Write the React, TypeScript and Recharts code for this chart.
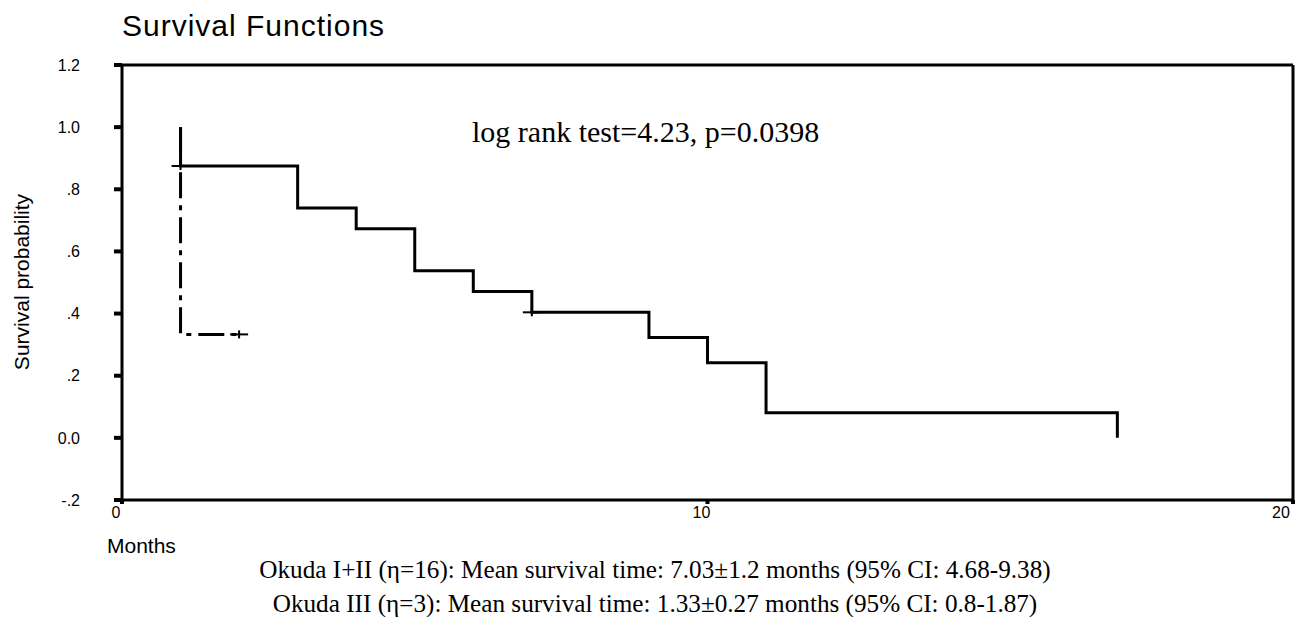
import React from "react";
import { LineChart, Line, XAxis, YAxis, ReferenceLine } from "recharts";

// ---- data ----
const okudaI_II_months = [1, 1, 3, 4, 5, 6, 7, 9, 10, 11, 17];
const okudaI_II_surv = [1.0, 0.875, 0.74, 0.673, 0.538, 0.471, 0.404, 0.323, 0.242, 0.081, 0.0];
const okudaI_II_censored = [false, true, false, false, false, false, true, false, false, false, false];

const okudaIII_months = [1, 1, 2];
const okudaIII_surv = [1.0, 0.333, 0.333];
const okudaIII_censored = [false, false, true];

const xTicks = [0, 10, 20];
const xTickLabels = ["0", "10", "20"];
const yTicks = [-0.2, 0, 0.2, 0.4, 0.6, 0.8, 1.0, 1.2];
const yTickLabels = ["-.2", "0.0", ".2", ".4", ".6", ".8", "1.0", "1.2"];

const title = "Survival Functions";
const yLabel = "Survival probability";
const xLabel = "Months";
const annotation = "log rank test=4.23, p=0.0398";
const caption1 = "Okuda I+II (η=16): Mean survival time: 7.03±1.2 months (95% CI: 4.68-9.38)";
const caption2 = "Okuda III (η=3): Mean survival time: 1.33±0.27 months (95% CI: 0.8-1.87)";

const build = (t: number[], s: number[], c: boolean[]) =>
  t.map((v, i) => ({ t: v, s: s[i], censored: c[i] }));

const dataA = build(okudaI_II_months, okudaI_II_surv, okudaI_II_censored);
const dataB = build(okudaIII_months, okudaIII_surv, okudaIII_censored);

const SANS = "'Liberation Sans', Arial, sans-serif";
const SERIF = "'Liberation Serif', 'Times New Roman', serif";

const CensorDot = (props: any) => {
  const { cx, cy, payload, index } = props;
  if (!payload || !payload.censored || cx == null || cy == null) return <g key={"d" + index} />;
  return (
    <g key={"d" + index}>
      <line x1={cx - 9} x2={cx + 9} y1={cy} y2={cy} stroke="#000" strokeWidth={2} />
      <line x1={cx} x2={cx} y1={cy - 4} y2={cy + 4} stroke="#000" strokeWidth={2} />
    </g>
  );
};

const XTick = (props: any) => {
  const { x, y, payload, index } = props;
  const i = xTicks.indexOf(payload.value);
  return (
    <text x={x - 6} y={y} dy="0.71em" textAnchor="middle" fontSize={16} fontFamily={SANS} fill="#000" key={"x" + index}>
      {i >= 0 ? xTickLabels[i] : String(payload.value)}
    </text>
  );
};

const yFmt = (v: number) => {
  const i = yTicks.findIndex((t) => Math.abs(t - v) < 1e-9);
  return i >= 0 ? yTickLabels[i] : String(v);
};

export default function App() {
  return (
    <div style={{ position: "absolute", left: 0, top: 0, width: 1295, height: 617, background: "#fff" }}>
      <LineChart width={1295} height={617} margin={{ top: 65, right: 2, left: 0, bottom: 87 }}>
        <XAxis
          dataKey="t"
          type="number"
          domain={[0, 20]}
          ticks={xTicks}
          allowDataOverflow
          height={30}
          axisLine={{ stroke: "#000", strokeWidth: 3 }}
          tickLine={{ stroke: "#000", strokeWidth: 4 }}
          tickSize={4}
          tickMargin={3}
          tick={<XTick />}
        />
        <YAxis
          dataKey="s"
          type="number"
          domain={[-0.2, 1.2]}
          ticks={yTicks}
          allowDataOverflow
          width={122}
          axisLine={{ stroke: "#000", strokeWidth: 3 }}
          tickLine={{ stroke: "#000", strokeWidth: 4 }}
          tickSize={8}
          tickMargin={34}
          tickFormatter={yFmt}
          tick={{ fontSize: 16, fontFamily: SANS, fill: "#000" }}
        />
        <ReferenceLine y={1.2} stroke="#000" strokeWidth={3} ifOverflow="visible" />
        <ReferenceLine x={20} stroke="#000" strokeWidth={3} ifOverflow="visible" />
        <Line
          data={dataB}
          dataKey="s"
          type="stepAfter"
          stroke="#000"
          strokeWidth={3}
          strokeDasharray="26 7 5 7"
          dot={CensorDot}
          activeDot={false}
          isAnimationActive={false}
        />
        <Line
          data={dataA}
          dataKey="s"
          type="stepAfter"
          stroke="#000"
          strokeWidth={3}
          dot={CensorDot}
          activeDot={false}
          isAnimationActive={false}
        />
      </LineChart>
      <svg
        width={1295}
        height={617}
        style={{ position: "absolute", left: 0, top: 0, pointerEvents: "none" }}
      >
        <text x={122} y={36} fontSize={30} letterSpacing={1} fontFamily={SANS} fill="#000">
          {title}
        </text>
        <text
          x={0}
          y={0}
          transform="translate(29,282) rotate(-90)"
          textAnchor="middle"
          fontSize={21}
          fontFamily={SANS}
          fill="#000"
        >
          {yLabel}
        </text>
        <text x={472} y={142} fontSize={30} fontFamily={SERIF} fill="#000">
          {annotation}
        </text>
        <text x={107} y={553} fontSize={21} fontFamily={SANS} fill="#000">
          {xLabel}
        </text>
        <text x={655} y={578} textAnchor="middle" fontSize={25.2} fontFamily={SERIF} fill="#000">
          {caption1}
        </text>
        <text x={655} y={612} textAnchor="middle" fontSize={25.2} fontFamily={SERIF} fill="#000">
          {caption2}
        </text>
      </svg>
    </div>
  );
}
